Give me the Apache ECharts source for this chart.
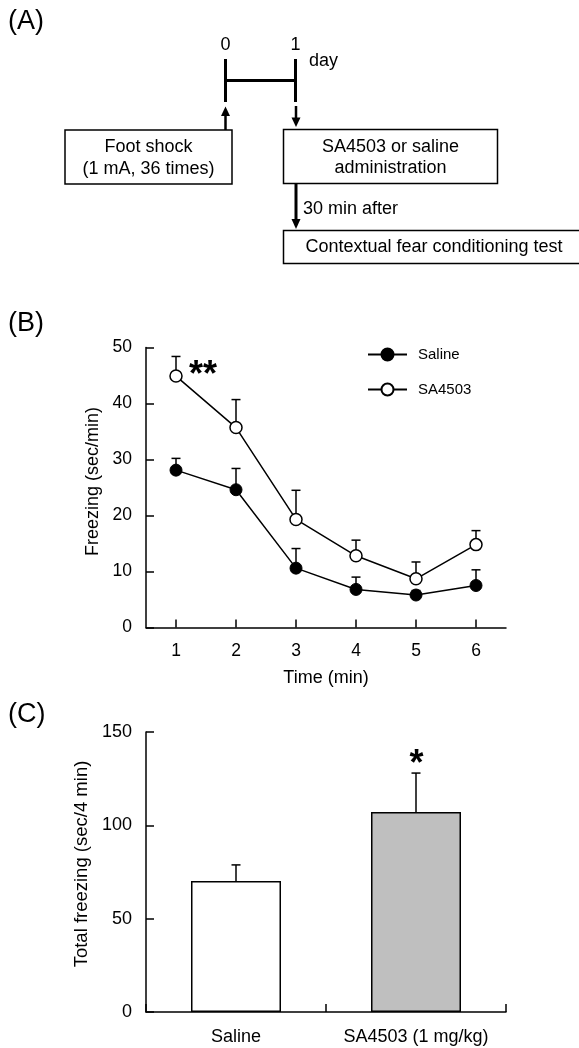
<!DOCTYPE html>
<html><head><meta charset="utf-8">
<script src="https://cdn.jsdelivr.net/npm/echarts@6/dist/echarts.min.js"></script>
<style>html,body{margin:0;padding:0;background:#fff}#c{width:579px;height:1048px}</style>
</head><body><div id="c"></div>
<script>
// ---- Panel B data ----
const timeLabels = ['1', '2', '3', '4', '5', '6'];
const salineMean = [28.1, 24.6, 10.6, 6.8, 5.8, 7.5];
const salineSem  = [2.1, 3.8, 3.5, 2.2, 0.8, 2.8];
const sa4503Mean = [44.9, 35.7, 19.3, 12.8, 8.7, 14.8];
const sa4503Sem  = [3.5, 5.0, 5.2, 2.8, 3.0, 2.5];
const freezingTicks = [0, 10, 20, 30, 40, 50];
// ---- Panel C data ----
const groupLabels = ['Saline', 'SA4503 (1 mg/kg)'];
const totalMean = [70.2, 107.1];
const totalSem  = [8.6, 20.9];
const totalTicks = [0, 50, 100, 150];

const FONT = "'Liberation Sans', Arial, sans-serif";
const chart = echarts.init(document.getElementById('c'), null, {renderer: 'canvas'});

function errData(mean, sem) { return mean.map((m, i) => [i, m, m + sem[i]]); }
function errRender(capW) {
  return function (params, api) {
    const i = api.value(0), lo = api.value(1), hi = api.value(2);
    const p0 = api.coord([i, lo]), p1 = api.coord([i, hi]);
    const st = {stroke: '#000', lineWidth: 1.5};
    return {type: 'group', children: [
      {type: 'line', shape: {x1: p0[0], y1: p0[1], x2: p1[0], y2: p1[1]}, style: st},
      {type: 'line', shape: {x1: p1[0] - capW / 2, y1: p1[1], x2: p1[0] + capW / 2, y2: p1[1]}, style: st}
    ]};
  };
}

const axisCommon = {
  axisLine: {show: true, lineStyle: {color: '#000', width: 1.5}},
  axisTick: {show: true, inside: true, length: 8, interval: 0, lineStyle: {color: '#000', width: 1.5}},
  splitLine: {show: false},
  axisLabel: {color: '#000', fontSize: 17.5, fontFamily: FONT},
  nameTextStyle: {color: '#000', fontSize: 18, fontFamily: FONT}
};

// ---- Panel A schematic (graphic) ----
const lw = 3;
const F = '18px ' + FONT;
const graphics = [
  {type: 'text', left: 8, top: 8, style: {text: '(A)', font: '27px ' + FONT, fill: '#000'}},
  {type: 'text', left: 8, top: 310, style: {text: '(B)', font: '27px ' + FONT, fill: '#000'}},
  {type: 'text', left: 8, top: 701, style: {text: '(C)', font: '27px ' + FONT, fill: '#000'}},
  {type: 'text', x: 225.5, y: 45.5, style: {text: '0', font: F, fill: '#000', align: 'center', verticalAlign: 'middle'}},
  {type: 'text', x: 295.5, y: 45.5, style: {text: '1', font: F, fill: '#000', align: 'center', verticalAlign: 'middle'}},
  {type: 'text', x: 309, y: 61, style: {text: 'day', font: F, fill: '#000', align: 'left', verticalAlign: 'middle'}},
  {type: 'line', shape: {x1: 225.5, y1: 59, x2: 225.5, y2: 102}, style: {stroke: '#000', lineWidth: lw}},
  {type: 'line', shape: {x1: 295.5, y1: 59, x2: 295.5, y2: 102}, style: {stroke: '#000', lineWidth: lw}},
  {type: 'line', shape: {x1: 225.5, y1: 80.5, x2: 295.5, y2: 80.5}, style: {stroke: '#000', lineWidth: lw}},
  // up arrow to timeline
  {type: 'line', shape: {x1: 225.5, y1: 130, x2: 225.5, y2: 114}, style: {stroke: '#000', lineWidth: 2.5}},
  {type: 'polygon', shape: {points: [[225.5, 106.5], [221, 116], [230, 116]]}, style: {fill: '#000'}},
  // down arrow from timeline
  {type: 'line', shape: {x1: 296, y1: 106, x2: 296, y2: 119}, style: {stroke: '#000', lineWidth: 2.5}},
  {type: 'polygon', shape: {points: [[296, 127], [291.5, 117.5], [300.5, 117.5]]}, style: {fill: '#000'}},
  // boxes
  {type: 'rect', shape: {x: 65, y: 130, width: 167, height: 54}, style: {fill: '#fff', stroke: '#000', lineWidth: 1.5}},
  {type: 'text', x: 148.5, y: 147, style: {text: 'Foot shock', font: F, fill: '#000', align: 'center', verticalAlign: 'middle'}},
  {type: 'text', x: 148.5, y: 169, style: {text: '(1 mA, 36 times)', font: F, fill: '#000', align: 'center', verticalAlign: 'middle'}},
  {type: 'rect', shape: {x: 283.5, y: 129.5, width: 214, height: 54}, style: {fill: '#fff', stroke: '#000', lineWidth: 1.5}},
  {type: 'text', x: 390.5, y: 147, style: {text: 'SA4503 or saline', font: F, fill: '#000', align: 'center', verticalAlign: 'middle'}},
  {type: 'text', x: 390.5, y: 168.5, style: {text: 'administration', font: F, fill: '#000', align: 'center', verticalAlign: 'middle'}},
  // arrow 30 min after
  {type: 'line', shape: {x1: 296, y1: 184, x2: 296, y2: 220}, style: {stroke: '#000', lineWidth: 3}},
  {type: 'polygon', shape: {points: [[296, 229], [291.5, 219], [300.5, 219]]}, style: {fill: '#000'}},
  {type: 'text', x: 303, y: 209.5, style: {text: '30 min after', font: F, fill: '#000', align: 'left', verticalAlign: 'middle'}},
  {type: 'rect', shape: {x: 283.5, y: 230.5, width: 300, height: 33}, style: {fill: '#fff', stroke: '#000', lineWidth: 1.5}},
  {type: 'text', x: 434, y: 247, style: {text: 'Contextual fear conditioning test', font: F, fill: '#000', align: 'center', verticalAlign: 'middle'}},
  // significance marks
  {type: 'text', x: 203, y: 376, style: {text: '**', font: 'bold 36px ' + FONT, fill: '#000', align: 'center', verticalAlign: 'middle'}},
  {type: 'text', x: 416.5, y: 765, style: {text: '*', font: 'bold 36px ' + FONT, fill: '#000', align: 'center', verticalAlign: 'middle'}}
];

const option = {
  backgroundColor: '#fff',
  animation: false,
  textStyle: {fontFamily: FONT},
  grid: [
    {left: 146, top: 347.5, width: 360, height: 280},
    {left: 146, top: 732, width: 360, height: 280}
  ],
  legend: {
    data: ['Saline', 'SA4503'],
    orient: 'vertical', left: 362, top: 342,
    itemWidth: 39, itemHeight: 15, itemGap: 20,
    textStyle: {color: '#000', fontSize: 15, fontFamily: FONT, padding: [0, 0, 0, 6]},
    inactiveColor: '#000'
  },
  xAxis: [
    Object.assign({}, axisCommon, {
      gridIndex: 0, type: 'category', data: timeLabels, boundaryGap: true,
      axisTick: Object.assign({}, axisCommon.axisTick, {alignWithLabel: true}),
      axisLabel: Object.assign({}, axisCommon.axisLabel, {margin: 15, interval: 0}),
      name: 'Time (min)', nameLocation: 'middle', nameGap: 42
    }),
    Object.assign({}, axisCommon, {
      gridIndex: 1, type: 'category', data: groupLabels, boundaryGap: true,
      axisLabel: Object.assign({}, axisCommon.axisLabel, {margin: 16, fontSize: 18, interval: 0, hideOverlap: false})
    })
  ],
  yAxis: [
    Object.assign({}, axisCommon, {
      gridIndex: 0, type: 'value', min: freezingTicks[0], max: freezingTicks[freezingTicks.length - 1], interval: 10,
      axisLabel: Object.assign({}, axisCommon.axisLabel, {margin: 14}),
      name: 'Freezing (sec/min)', nameLocation: 'middle', nameGap: 42,
      nameTextStyle: Object.assign({}, axisCommon.nameTextStyle, {padding: [0, 0, 0, 12]})
    }),
    Object.assign({}, axisCommon, {
      gridIndex: 1, type: 'value', min: totalTicks[0], max: totalTicks[totalTicks.length - 1], interval: 50,
      axisLabel: Object.assign({}, axisCommon.axisLabel, {margin: 14, fontSize: 18}),
      name: 'Total freezing (sec/4 min)', nameLocation: 'middle', nameGap: 52,
      nameTextStyle: Object.assign({}, axisCommon.nameTextStyle, {fontSize: 18.5, padding: [0, 0, 0, 16]})
    })
  ],
  series: [
    {type: 'custom', name: 'errSaline', xAxisIndex: 0, yAxisIndex: 0, renderItem: errRender(9),
      encode: {x: 0, y: [1, 2]}, data: errData(salineMean, salineSem), z: 1, silent: true},
    {type: 'custom', name: 'errSA', xAxisIndex: 0, yAxisIndex: 0, renderItem: errRender(9),
      encode: {x: 0, y: [1, 2]}, data: errData(sa4503Mean, sa4503Sem), z: 1, silent: true},
    {type: 'line', name: 'Saline', xAxisIndex: 0, yAxisIndex: 0, data: salineMean, z: 3,
      symbol: 'circle', symbolSize: 12, lineStyle: {color: '#000', width: 1.5},
      itemStyle: {color: '#000', borderColor: '#000', borderWidth: 1}},
    {type: 'line', name: 'SA4503', xAxisIndex: 0, yAxisIndex: 0, data: sa4503Mean, z: 3,
      symbol: 'circle', symbolSize: 12, lineStyle: {color: '#000', width: 1.5},
      itemStyle: {color: '#fff', borderColor: '#000', borderWidth: 1.5}},
    {type: 'bar', name: 'total', xAxisIndex: 1, yAxisIndex: 1, data: totalMean, barWidth: 90, z: 2,
      itemStyle: {color: (p) => (p.dataIndex === 0 ? '#ffffff' : '#bfbfbf'), borderColor: '#000', borderWidth: 1.5}},
    {type: 'custom', name: 'errTotal', xAxisIndex: 1, yAxisIndex: 1, renderItem: errRender(9),
      encode: {x: 0, y: [1, 2]}, data: errData(totalMean, totalSem), z: 3, silent: true}
  ],
  graphic: graphics
};
chart.setOption(option);
</script>
</body></html>
